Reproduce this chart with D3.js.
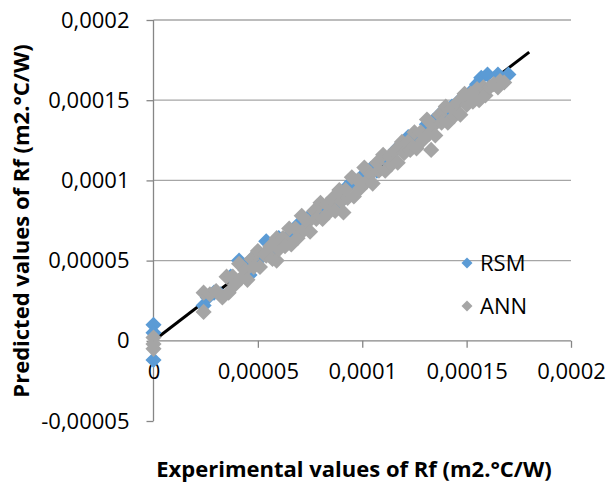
<!DOCTYPE html>
<html lang="en">
<head>
    <meta charset="UTF-8">
    <title>Rf scatter</title>
    <style>
        body,html{
            margin:0;
            padding:0;
            border:0;
            background:#fff;
        }
        text{font-family:"Open Sans", Arial, sans-serif;}
    </style>
</head>
<body>
    <svg id="svg" width="610" height="484"></svg>
    <script type="text/javascript" src="https://cdnjs.cloudflare.com/ajax/libs/d3/7.8.5/d3.min.js"></script>
    <script type="text/javascript">
        // values in units of 1e-6 m2.°C/W : [experimental, predicted]
        var rsm = [
            [0,10],[0,5],[0,-12],
            [24,22],[26,27],[29,30],[32,29],
            [37,40],[41,50],[44,47],[46,41],[48,52],[50,50],[54,62],[56,53],[58,57],[60,64],
            [63,61],[66,67],[69,72],[72,70],[75,78],[78,79],[81,84],[84,85],[87,86],[89,86],
            [92,95],[95,99],[98,98],[101,104],[104,107],[107,106],[110,114],[113,113],
            [116,119],[119,122],[122,127],[125,128],[128,127],[131,135],[134,137],
            [137,141],[140,143],[143,146],[146,149],[149,152],[152,155],[155,160],
            [157,164],[160,166],[165,166],[170,166]
        ];
        var ann = [
            [0,2],[0,-2],[0,-5],
            [24,18],[24,30],[27,29],[30,31],[33,27],
            [35,40],[36,30],[38,40],[39,35],[41,48],[42,39],[44,44],[45,38],[47,51],[48,46],
            [50,56],[51,46],[53,54],[54,53],[56,59],[57,51],[59,64],[59,50],[60,57],[62,64],[63,59],
            [65,70],[66,60],[68,70],[69,64],[71,78],[72,69],[74,74],[75,68],[77,81],[78,76],
            [80,86],[81,76],[83,85],[84,80],[86,89],[87,81],[89,94],[90,87],[91,80],[92,94],[93,89],
            [95,102],[96,90],[98,100],[99,95],[101,108],[102,99],[104,104],[105,98],[107,111],[108,106],
            [110,116],[111,106],[113,115],[114,110],[116,119],[117,111],[119,124],[120,117],[122,124],[123,119],
            [125,130],[126,120],[128,130],[129,125],[131,138],[132,129],[133,119],[134,134],[135,128],[137,141],[138,136],
            [140,146],[141,136],[143,145],[144,140],[146,149],[147,141],[149,154],[150,147],[152,154],[153,149],
            [155,157],[156,150],[158,158],[159,153],[161,158],[163,160],[165,158],[166,162],[168,161]
        ];
        var fitLine = [[0,0],[180,180]];

        var xTicks = [0, 0.00005, 0.0001, 0.00015, 0.0002];
        var xTickLabels = ["0","0,00005","0,0001","0,00015","0,0002"];
        var yTicks = [-0.00005, 0, 0.00005, 0.0001, 0.00015, 0.0002];
        var yTickLabels = ["-0,00005","0","0,00005","0,0001","0,00015","0,0002"];

        var series = [
            {name:"RSM", color:"#5B9BD5", data:rsm},
            {name:"ANN", color:"#A5A5A5", data:ann}
        ];

        var svg = d3.select("#svg");

        var x = d3.scaleLinear().domain([0, 0.0002]).range([153.5, 571]);
        var y = d3.scaleLinear().domain([-0.00005, 0.0002]).range([421, 20]);

        //gridlines
        svg.append("g").selectAll("line")
            .data(yTicks.filter(function(v){return v > 0;}))
            .enter().append("line")
            .attr("x1", x(0)).attr("x2", x(0.0002))
            .attr("y1", function(d){return y(d);}).attr("y2", function(d){return y(d);})
            .attr("stroke", "#A6A6A6").attr("stroke-width", 1.3);

        //y axis
        var yAxis = d3.axisLeft(y).tickValues(yTicks).tickSize(7).tickPadding(17)
            .tickFormat(function(d, i){return yTickLabels[i];});
        var gy = svg.append("g").attr("transform", "translate(" + x(0) + ",0)").call(yAxis);

        //x axis at zero
        var xAxis = d3.axisBottom(x).tickValues(xTicks).tickSize(7).tickPadding(16)
            .tickFormat(function(d, i){return xTickLabels[i];});
        var gx = svg.append("g").attr("transform", "translate(0," + y(0) + ")").call(xAxis);

        [gx, gy].forEach(function(g){
            g.select(".domain").attr("stroke", "#868686").attr("stroke-width", 1.3);
            g.selectAll(".tick line").attr("stroke", "#868686").attr("stroke-width", 1.3);
            g.selectAll(".tick text").attr("fill", "#000").style("font-size", "22px")
                .style("font-family", "'Open Sans', Arial, sans-serif");
        });
        gy.select(".domain").attr("d", "M0," + y(-0.00005) + "V" + y(0.0002));
        gx.select(".domain").attr("d", "M" + x(0) + ",0H" + x(0.0002));

        //1:1 line behind the markers
        var line = d3.line()
            .x(function(d){return x(d[0] * 1e-6);})
            .y(function(d){return y(d[1] * 1e-6);});
        svg.append("path").datum(fitLine).attr("d", line)
            .attr("fill", "none").attr("stroke", "#000").attr("stroke-width", 3);

        var diamond = d3.symbol().type(d3.symbolSquare).size(130);

        series.forEach(function(s){
            svg.append("g").selectAll("path")
                .data(s.data).enter().append("path")
                .attr("d", diamond)
                .attr("transform", function(d){
                    return "translate(" + x(d[0] * 1e-6) + "," + y(d[1] * 1e-6) + ") rotate(45)";
                })
                .attr("fill", s.color);
        });

        //legend
        var legend = svg.append("g").selectAll("g").data(series).enter().append("g")
            .attr("transform", function(d, i){return "translate(467," + (263 + i * 43) + ")";});
        legend.append("path")
            .attr("d", d3.symbol().type(d3.symbolSquare).size(60))
            .attr("transform", "rotate(45)")
            .attr("fill", function(d){return d.color;});
        legend.append("text")
            .attr("x", 13).attr("dy", "0.36em")
            .style("font-size", "22px")
            .text(function(d){return d.name;});

        //axis titles
        svg.append("text")
            .attr("x", 354).attr("y", 477)
            .attr("text-anchor", "middle")
            .style("font-size", "22px").style("font-weight", "bold")
            .text("Experimental values of Rf (m2.°C/W)");
        svg.append("text")
            .attr("transform", "translate(29,221) rotate(-90)")
            .attr("text-anchor", "middle")
            .style("font-size", "22px").style("font-weight", "bold")
            .text("Predicted values of Rf (m2.°C/W)");
    </script>
</body>
</html>
